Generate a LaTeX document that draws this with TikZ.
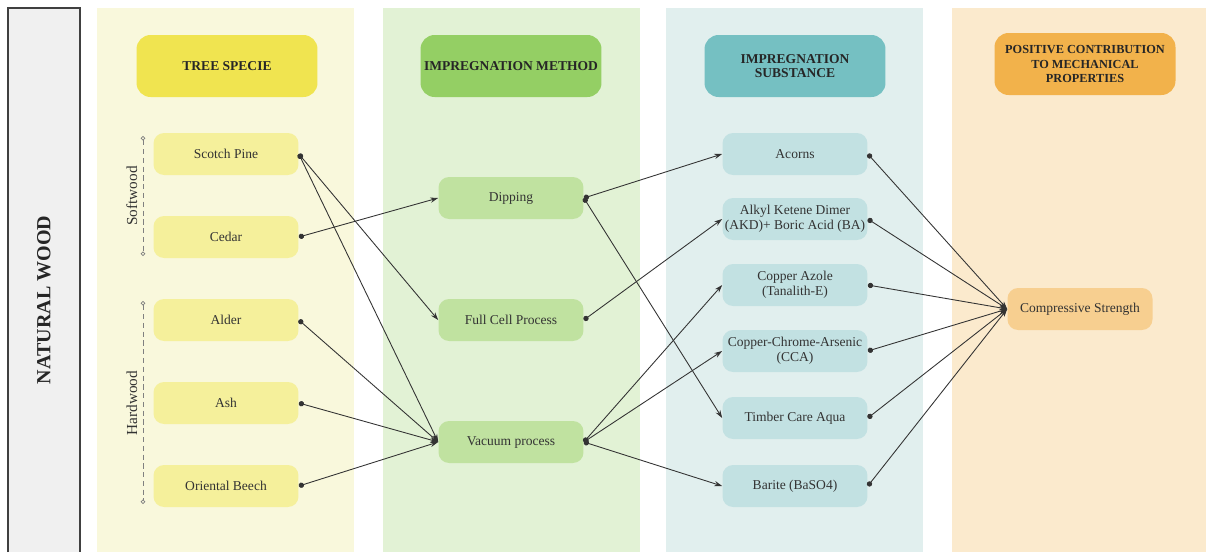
\documentclass[tikz,border=0pt]{standalone}
\usepackage{fontspec}
\setmainfont{Liberation Serif}
\usetikzlibrary{arrows.meta}
\definecolor{woodgray}{HTML}{F0F0F0}
\definecolor{speciebg}{HTML}{F9F8DC}
\definecolor{speciehd}{HTML}{F0E450}
\definecolor{specieit}{HTML}{F5F09B}
\definecolor{methodbg}{HTML}{E2F2D5}
\definecolor{methodhd}{HTML}{94CF64}
\definecolor{methodit}{HTML}{C0E2A0}
\definecolor{substbg}{HTML}{E1EFEE}
\definecolor{substhd}{HTML}{75C0C2}
\definecolor{substit}{HTML}{C2E1E2}
\definecolor{propbg}{HTML}{FBEACD}
\definecolor{prophd}{HTML}{F2B24B}
\definecolor{propit}{HTML}{F7CF90}
\begin{document}
\begin{tikzpicture}[x=0.02cm,y=-0.02cm,
    header/.style={rounded corners=8pt,minimum width=3.62cm,minimum height=1.24cm,inner sep=0pt,align=center,
        font=\fontsize{7.7}{8.4}\selectfont\bfseries,text=black!85},
    item/.style={rounded corners=6pt,minimum width=2.9cm,minimum height=0.84cm,inner sep=0pt,align=center,
        font=\fontsize{7.7}{8.3}\selectfont,text=black!80},
    link/.style={draw=black!80,line width=0.5pt,{Circle[length=3pt]}-{Stealth[length=4.5pt,width=3pt]}},
    group/.style={black!50,densely dashed,line width=0.4pt,{Circle[open,length=2.6pt]}-{Circle[open,length=2.6pt]}},
    grouplabel/.style={rotate=90,anchor=south,inner sep=3pt,font=\fontsize{8.7}{9}\selectfont,text=black!80}]
    \useasboundingbox (0,0) rectangle (1206,552);
    %% natural wood band
    \fill[woodgray] (8,8) rectangle (80,552);
    \draw[black!75,line width=0.8pt] (8,552) -- (8,8) -- (80,8) -- (80,552);
    \node[rotate=90,font=\fontsize{11.4}{12}\selectfont\bfseries,text=black!85] (wood) at (44,300) {NATURAL WOOD};
    %% column backgrounds
    \fill[speciebg] (97,8) rectangle (354,552);
    \fill[methodbg] (383,8) rectangle (640,552);
    \fill[substbg] (666,8) rectangle (923,552);
    \fill[propbg] (952,8) rectangle (1206,552);
    %% headers
    \node[header,fill=speciehd] (hspecie) at (227,66) {TREE SPECIE};
    \node[header,fill=methodhd] (hmethod) at (511,66) {IMPREGNATION METHOD};
    \node[header,fill=substhd] (hsubst) at (795,66) {IMPREGNATION\\SUBSTANCE};
    \node[header,fill=prophd,font=\fontsize{7}{8}\selectfont\bfseries] (hprop) at (1085,64)
        {POSITIVE CONTRIBUTION\\TO MECHANICAL\\PROPERTIES};
    %% tree species
    \node[item,fill=specieit] (scotch) at (226,154) {Scotch Pine};
    \node[item,fill=specieit] (cedar) at (226,237) {Cedar};
    \node[item,fill=specieit] (alder) at (226,320) {Alder};
    \node[item,fill=specieit] (ash) at (226,403) {Ash};
    \node[item,fill=specieit] (beech) at (226,486) {Oriental Beech};
    \coordinate (swtop) at (143,136);
    \coordinate (swbot) at (143,256);
    \coordinate (hwtop) at (143,301);
    \coordinate (hwbot) at (143,504);
    \draw[group] (swtop) -- (swbot);
    \draw[group] (hwtop) -- (hwbot);
    \node[grouplabel] (soft) at (143,196) {Softwood};
    \node[grouplabel] (hard) at (143,403) {Hardwood};
    %% impregnation methods
    \node[item,fill=methodit] (dip) at (511,198) {Dipping};
    \node[item,fill=methodit] (fullcell) at (511,320) {Full Cell Process};
    \node[item,fill=methodit] (vacuum) at (511,442) {Vacuum process};
    %% impregnation substances
    \node[item,fill=substit] (acorns) at (795,154) {Acorns};
    \node[item,fill=substit] (akd) at (795,219) {Alkyl Ketene Dimer\\(AKD)+ Boric Acid (BA)};
    \node[item,fill=substit] (azole) at (795,285) {Copper Azole\\(Tanalith-E)};
    \node[item,fill=substit] (cca) at (795,351) {Copper-Chrome-Arsenic\\(CCA)};
    \node[item,fill=substit] (tca) at (795,418) {Timber Care Aqua};
    \node[item,fill=substit] (barite) at (795,486) {Barite (BaSO4)};
    %% property
    \node[item,fill=propit] (compr) at (1080,309) {Compressive Strength};
    %% links
    \draw[link] (scotch.east) -- (fullcell.west);
    \draw[link] (scotch.east) -- (vacuum.west);
    \draw[link] (cedar.east) -- (dip.west);
    \draw[link] (alder.east) -- (vacuum.west);
    \draw[link] (ash.east) -- (vacuum.west);
    \draw[link] (beech.east) -- (vacuum.west);
    \draw[link] (dip.east) -- (acorns.west);
    \draw[link] (dip.east) -- (tca.west);
    \draw[link] (fullcell.east) -- (akd.west);
    \draw[link] (vacuum.east) -- (azole.west);
    \draw[link] (vacuum.east) -- (cca.west);
    \draw[link] (vacuum.east) -- (barite.west);
    \foreach \s in {acorns,akd,azole,cca,tca,barite}
        \draw[link] (\s.east) -- (compr.west);
\end{tikzpicture}
\end{document}
